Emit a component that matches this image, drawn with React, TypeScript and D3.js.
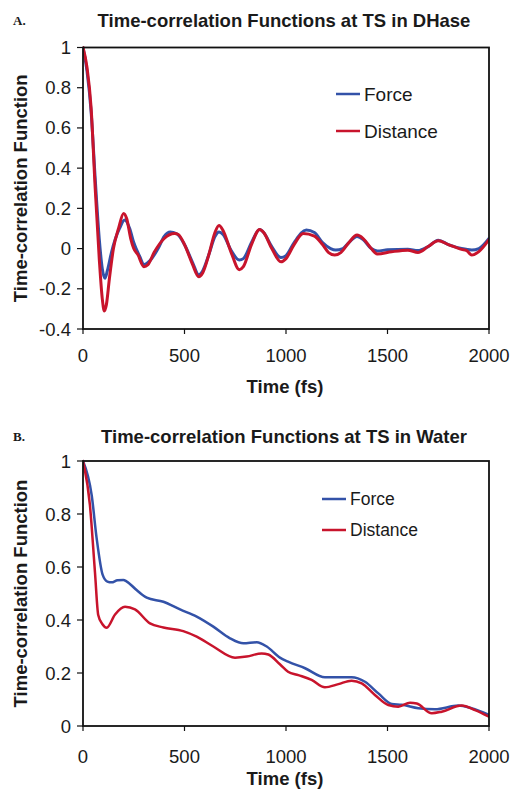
import React from "react";
import * as d3 from "d3";

// ---------- Data ----------
const xTicks = [0, 500, 1000, 1500, 2000];
const yTicksA = [-0.4, -0.2, 0, 0.2, 0.4, 0.6, 0.8, 1];
const yTicksB = [0, 0.2, 0.4, 0.6, 0.8, 1];
const seriesNames = ["Force", "Distance"];
const titleA = "Time-correlation Functions at TS in DHase";
const titleB = "Time-correlation Functions at TS in Water";

// Panel A (DHase): [time fs, value]
const dhaseForce: [number, number][] = [
  [0, 1.0], [20, 0.88], [40, 0.68], [60, 0.35], [80, 0.05], [95, -0.1], [108, -0.148], [120, -0.11],
  [140, -0.02], [160, 0.05], [180, 0.1], [205, 0.142], [230, 0.1], [250, 0.03], [280, -0.04],
  [300, -0.08], [330, -0.06], [370, 0.0], [400, 0.06], [430, 0.082], [460, 0.075], [500, 0.02],
  [540, -0.07], [570, -0.13], [590, -0.11], [620, -0.03], [650, 0.06], [670, 0.083], [690, 0.07],
  [730, -0.01], [770, -0.057], [790, -0.05], [830, 0.03], [870, 0.095], [890, 0.08], [930, 0.01],
  [975, -0.045], [1000, -0.035], [1040, 0.03], [1100, 0.092], [1140, 0.08], [1180, 0.03],
  [1220, 0.0], [1245, -0.007], [1280, 0.0], [1310, 0.03], [1350, 0.06], [1380, 0.045], [1420, 0.0],
  [1450, -0.012], [1500, -0.006], [1600, -0.003], [1650, -0.01], [1700, 0.01], [1750, 0.042],
  [1800, 0.02], [1865, 0.0], [1915, -0.007], [1950, 0.0], [2000, 0.05],
];
const dhaseDistance: [number, number][] = [
  [0, 1.0], [20, 0.9], [40, 0.7], [60, 0.3], [80, -0.05], [95, -0.25], [105, -0.31], [115, -0.28],
  [130, -0.15], [150, 0.0], [175, 0.1], [200, 0.175], [215, 0.15], [235, 0.05], [250, 0.0],
  [270, -0.03], [300, -0.09], [320, -0.08], [350, -0.02], [400, 0.05], [450, 0.075], [470, 0.07],
  [500, 0.02], [540, -0.08], [570, -0.14], [590, -0.12], [620, -0.03], [650, 0.08], [670, 0.115],
  [690, 0.09], [730, -0.02], [770, -0.105], [790, -0.09], [830, 0.02], [870, 0.095], [890, 0.08],
  [930, 0.0], [975, -0.066], [1000, -0.05], [1040, 0.02], [1085, 0.075], [1140, 0.062],
  [1180, 0.02], [1210, -0.02], [1240, -0.032], [1270, -0.02], [1310, 0.03], [1350, 0.067],
  [1380, 0.05], [1420, 0.0], [1450, -0.027], [1520, -0.016], [1600, -0.008], [1650, -0.019],
  [1700, 0.01], [1750, 0.039], [1800, 0.02], [1865, -0.004], [1890, -0.01], [1915, -0.032],
  [1950, -0.015], [2000, 0.045],
];

// Panel B (Water)
const waterForce: [number, number][] = [
  [0, 1.0], [43, 0.87], [67, 0.71], [97, 0.57], [120, 0.545], [141, 0.542], [170, 0.55], [199, 0.551],
  [214, 0.546], [264, 0.513], [314, 0.484], [396, 0.469], [478, 0.44], [560, 0.413], [642, 0.375],
  [724, 0.331], [790, 0.312], [856, 0.316], [905, 0.3], [970, 0.258], [1010, 0.243], [1094, 0.218],
  [1192, 0.184], [1323, 0.184], [1389, 0.167], [1455, 0.123], [1521, 0.083], [1570, 0.08],
  [1652, 0.067], [1734, 0.063], [1849, 0.077], [1914, 0.067], [2000, 0.042],
];
const waterDistance: [number, number][] = [
  [0, 1.0], [34, 0.834], [59, 0.58], [75, 0.419], [95, 0.385], [117, 0.371], [158, 0.421], [207, 0.45],
  [256, 0.44], [330, 0.387], [396, 0.372], [494, 0.358], [560, 0.337], [642, 0.3], [749, 0.258],
  [806, 0.262], [880, 0.274], [913, 0.27], [970, 0.233], [1010, 0.205], [1061, 0.192], [1126, 0.174],
  [1192, 0.146], [1258, 0.158], [1323, 0.171], [1373, 0.161], [1438, 0.117], [1504, 0.079],
  [1553, 0.073], [1611, 0.088], [1644, 0.085], [1718, 0.048], [1767, 0.054], [1865, 0.077],
  [1931, 0.06], [2000, 0.035],
];

const BLUE = "#3352a8";
const RED = "#c8142c";
const FONT = "'Liberation Sans', Arial, sans-serif";

type PanelProps = {
  letter: string;
  title: string;
  top: number;
  bottom: number;
  yDomain: [number, number];
  yTicks: number[];
  force: [number, number][];
  distance: [number, number][];
  legendX: number;
  legendY: number;
  legendGap: number;
  legendFont: number;
  lineWidth: number;
  titleY: number;
  xLabelY: number;
  xTitleY: number;
};

function Panel(p: PanelProps) {
  const left = 83;
  const right = 489;
  const x = d3.scaleLinear().domain([0, 2000]).range([left, right]);
  const y = d3.scaleLinear().domain(p.yDomain).range([p.bottom, p.top]);
  const line = d3
    .line<[number, number]>()
    .x((d) => x(d[0]))
    .y((d) => y(d[1]))
    .curve(d3.curveMonotoneX);
  const fmt = (v: number) => (Math.abs(v) < 1e-9 ? "0" : String(+v.toFixed(1)));
  const midY = (p.top + p.bottom) / 2;
  return (
    <g fontFamily={FONT} fill="#1a1a1a">
      <text x={13} y={p.titleY - 2} fontFamily="'Liberation Serif', 'Times New Roman', serif" fontWeight="bold" fontSize={13}>
        {p.letter}
      </text>
      <text x={284} y={p.titleY} textAnchor="middle" fontWeight="bold" fontSize={18.5}>
        {p.title}
      </text>
      <clipPath id={`clip-${p.letter}`}>
        <rect x={left} y={p.top - 2} width={right - left} height={p.bottom - p.top + 4} />
      </clipPath>
      <g clipPath={`url(#clip-${p.letter})`} fill="none" strokeLinejoin="round" strokeLinecap="round">
        <path d={line(p.force) || ""} stroke={BLUE} strokeWidth={p.lineWidth} />
        <path d={line(p.distance) || ""} stroke={RED} strokeWidth={p.lineWidth} />
      </g>
      <rect x={left} y={p.top} width={right - left} height={p.bottom - p.top} fill="none" stroke="#111" strokeWidth={1.8} />
      {p.yTicks.map((t) => (
        <g key={`y${t}`}>
          <line x1={left - 6} x2={left} y1={y(t)} y2={y(t)} stroke="#111" strokeWidth={1.2} />
          <text x={71} y={y(t) + 6.5} textAnchor="end" fontSize={18.5}>
            {fmt(t)}
          </text>
        </g>
      ))}
      {xTicks.map((t) => (
        <g key={`x${t}`}>
          <line x1={x(t)} x2={x(t)} y1={p.bottom} y2={p.bottom + 5} stroke="#111" strokeWidth={1.2} />
          <text x={x(t)} y={p.xLabelY} textAnchor="middle" fontSize={18.5}>
            {t}
          </text>
        </g>
      ))}
      <text x={285} y={p.xTitleY} textAnchor="middle" fontWeight="bold" fontSize={18.5}>
        Time (fs)
      </text>
      <text
        transform={`translate(27,${midY}) rotate(-90)`}
        textAnchor="middle"
        fontWeight="bold"
        fontSize={18.5}
      >
        Time-correlation Function
      </text>
      {seriesNames.map((name, i) => (
        <g key={name}>
          <line
            x1={p.legendX}
            x2={p.legendX + 24}
            y1={p.legendY + i * p.legendGap}
            y2={p.legendY + i * p.legendGap}
            stroke={i === 0 ? BLUE : RED}
            strokeWidth={2.5}
          />
          <text x={p.legendX + 28} y={p.legendY + i * p.legendGap + p.legendFont * 0.36} fontSize={p.legendFont}>
            {name}
          </text>
        </g>
      ))}
    </g>
  );
}

export default function App() {
  return (
    <svg width={512} height={789} style={{ position: "absolute", left: 0, top: 0, background: "#fff" }}>
      <rect width={512} height={789} fill="#fff" />
      <Panel
        letter="A."
        title={titleA}
        top={47.5}
        bottom={329}
        yDomain={[-0.4, 1]}
        yTicks={yTicksA}
        force={dhaseForce}
        distance={dhaseDistance}
        legendX={336}
        legendY={94}
        legendGap={37}
        legendFont={19}
        lineWidth={3}
        titleY={27}
        xLabelY={362}
        xTitleY={393}
      />
      <Panel
        letter="B."
        title={titleB}
        top={461}
        bottom={726}
        yDomain={[0, 1]}
        yTicks={yTicksB}
        force={waterForce}
        distance={waterDistance}
        legendX={322}
        legendY={499}
        legendGap={31}
        legendFont={17.5}
        lineWidth={2.5}
        titleY={443}
        xLabelY={763}
        xTitleY={785}
      />
    </svg>
  );
}
